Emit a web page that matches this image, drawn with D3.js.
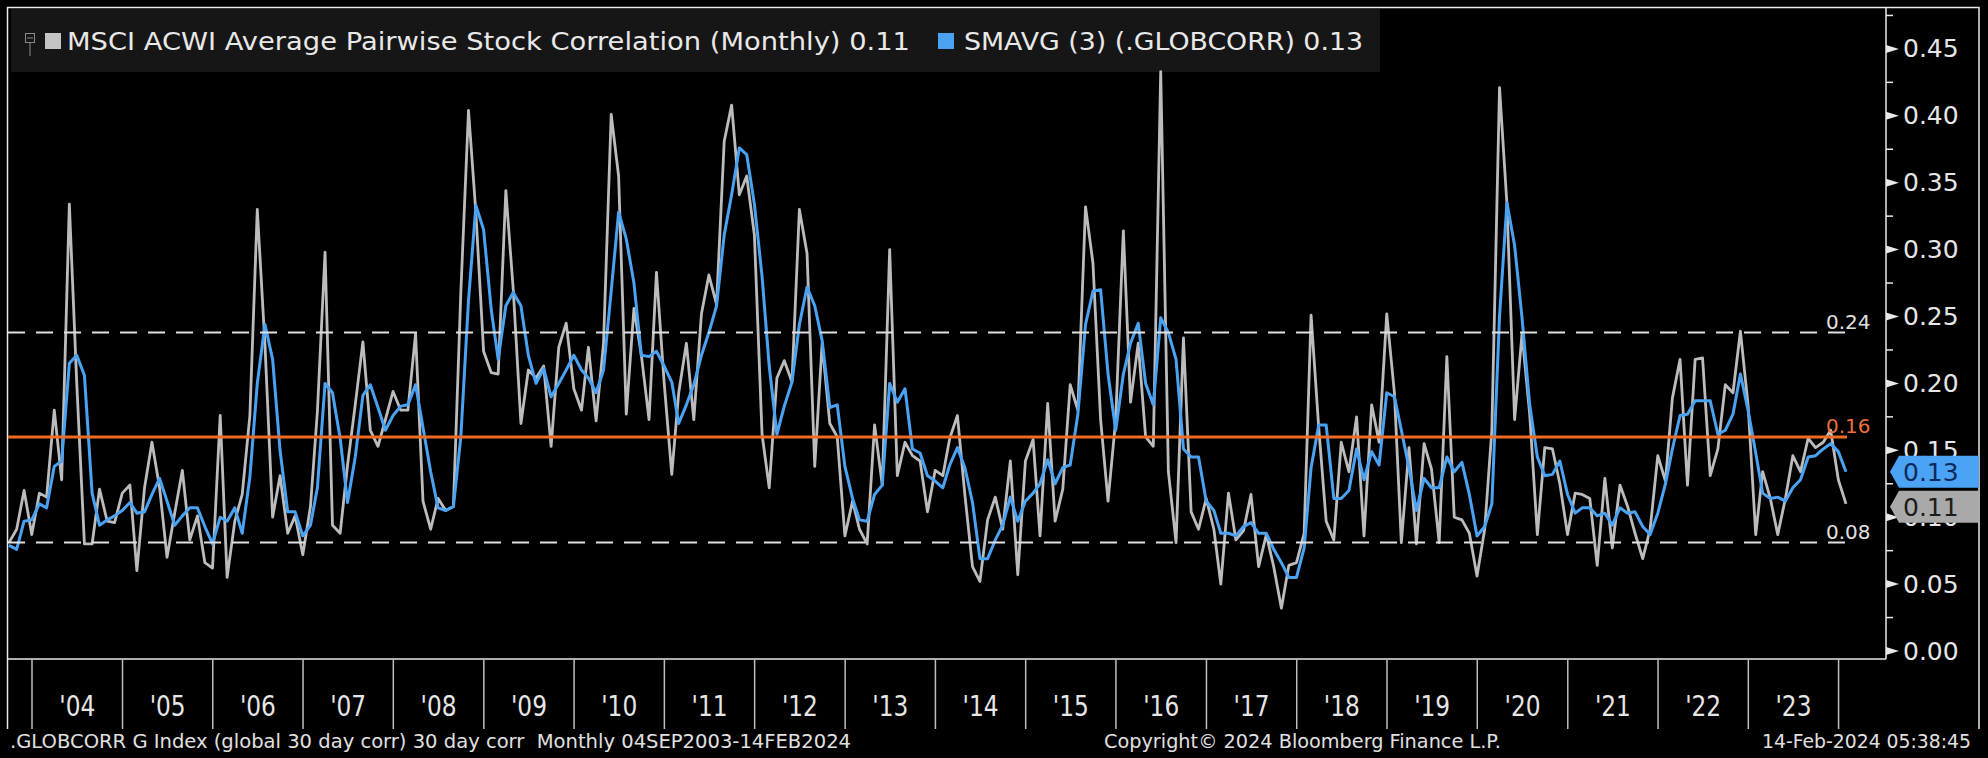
<!DOCTYPE html>
<html>
<head>
<meta charset="utf-8">
<script src="https://cdn.jsdelivr.net/npm/d3@7"></script>
<style>
  html, body { margin: 0; padding: 0; background: #000; }
  svg { display: block; }
  text { font-family: "DejaVu Sans", "Liberation Sans", sans-serif; }
</style>
</head>
<body>
<div id="chart"></div>
<script>
// monthly values, Sep 2003 .. Jan 2024 (month ends)
const corr = [
  0.081, 0.091, 0.120, 0.087,
  0.118, 0.115, 0.180, 0.128, 0.334, 0.200, 0.080, 0.080, 0.121, 0.097, 0.096, 0.118,
  0.124, 0.060, 0.122, 0.156, 0.122, 0.070, 0.103, 0.135, 0.083, 0.101, 0.066, 0.062,
  0.176, 0.055, 0.097, 0.117, 0.176, 0.330, 0.229, 0.100, 0.131, 0.088, 0.101, 0.072,
  0.108, 0.179, 0.298, 0.094, 0.088, 0.139, 0.184, 0.231, 0.165, 0.153, 0.173, 0.194,
  0.180, 0.180, 0.237, 0.112, 0.091, 0.114, 0.105, 0.108, 0.268, 0.404, 0.327, 0.224,
  0.208, 0.207, 0.344, 0.270, 0.170, 0.210, 0.204, 0.213, 0.153, 0.227, 0.245, 0.196,
  0.180, 0.227, 0.172, 0.230, 0.401, 0.355, 0.177, 0.256, 0.221, 0.173, 0.283, 0.201,
  0.132, 0.193, 0.230, 0.173, 0.252, 0.281, 0.259, 0.381, 0.408, 0.341, 0.355, 0.311,
  0.162, 0.122, 0.204, 0.217, 0.201, 0.330, 0.297, 0.138, 0.230, 0.170, 0.160, 0.086,
  0.112, 0.091, 0.080, 0.169, 0.124, 0.300, 0.131, 0.156, 0.146, 0.142, 0.104, 0.135,
  0.131, 0.159, 0.176, 0.117, 0.063, 0.052, 0.098, 0.115, 0.091, 0.142, 0.057, 0.142,
  0.158, 0.086, 0.185, 0.097, 0.121, 0.199, 0.180, 0.332, 0.290, 0.173, 0.112, 0.173,
  0.314, 0.186, 0.230, 0.160, 0.153, 0.433, 0.134, 0.081, 0.234, 0.104, 0.091, 0.114,
  0.091, 0.050, 0.118, 0.083, 0.090, 0.117, 0.063, 0.087, 0.063, 0.032, 0.064, 0.066,
  0.088, 0.251, 0.167, 0.097, 0.083, 0.156, 0.134, 0.175, 0.086, 0.184, 0.156, 0.252,
  0.193, 0.081, 0.152, 0.080, 0.155, 0.136, 0.081, 0.220, 0.100, 0.098, 0.088, 0.056,
  0.091, 0.165, 0.421, 0.334, 0.173, 0.237, 0.177, 0.087, 0.152, 0.151, 0.125, 0.087,
  0.118, 0.117, 0.114, 0.064, 0.129, 0.077, 0.124, 0.108, 0.088, 0.069, 0.091, 0.146,
  0.127, 0.189, 0.218, 0.124, 0.218, 0.219, 0.131, 0.151, 0.199, 0.193, 0.239, 0.184,
  0.087, 0.134, 0.114, 0.087, 0.114, 0.146, 0.134, 0.159, 0.152, 0.156, 0.165, 0.128,
  0.110
];

const smavg = [
  0.079, 0.076, 0.097, 0.098,
  0.110, 0.107, 0.138, 0.142, 0.215, 0.221, 0.206, 0.118, 0.094, 0.098, 0.101, 0.105,
  0.111, 0.103, 0.104, 0.117, 0.129, 0.112, 0.094, 0.101, 0.107, 0.107, 0.093, 0.080,
  0.100, 0.097, 0.107, 0.088, 0.130, 0.200, 0.244, 0.218, 0.150, 0.104, 0.104, 0.086,
  0.094, 0.122, 0.200, 0.193, 0.159, 0.111, 0.145, 0.191, 0.199, 0.182, 0.165, 0.176,
  0.183, 0.184, 0.199, 0.167, 0.134, 0.107, 0.105, 0.108, 0.160, 0.262, 0.333, 0.315,
  0.255, 0.218, 0.258, 0.268, 0.258, 0.221, 0.200, 0.211, 0.190, 0.200, 0.210, 0.221,
  0.210, 0.204, 0.193, 0.210, 0.269, 0.328, 0.308, 0.275, 0.221, 0.220, 0.224, 0.213,
  0.201, 0.170, 0.184, 0.199, 0.221, 0.238, 0.258, 0.311, 0.341, 0.376, 0.371, 0.334,
  0.280, 0.213, 0.162, 0.183, 0.201, 0.244, 0.272, 0.258, 0.232, 0.182, 0.184, 0.138,
  0.114, 0.098, 0.097, 0.117, 0.124, 0.200, 0.186, 0.196, 0.151, 0.148, 0.131, 0.127,
  0.122, 0.139, 0.152, 0.137, 0.111, 0.069, 0.069, 0.083, 0.094, 0.115, 0.097, 0.112,
  0.118, 0.125, 0.143, 0.125, 0.137, 0.139, 0.177, 0.244, 0.269, 0.270, 0.207, 0.165,
  0.207, 0.230, 0.245, 0.200, 0.184, 0.249, 0.238, 0.218, 0.151, 0.145, 0.145, 0.112,
  0.105, 0.088, 0.088, 0.086, 0.093, 0.096, 0.088, 0.088, 0.076, 0.066, 0.055, 0.055,
  0.077, 0.137, 0.169, 0.169, 0.114, 0.114, 0.120, 0.151, 0.128, 0.149, 0.139, 0.193,
  0.190, 0.165, 0.137, 0.105, 0.129, 0.122, 0.122, 0.145, 0.134, 0.141, 0.117, 0.086,
  0.093, 0.110, 0.250, 0.335, 0.303, 0.249, 0.184, 0.145, 0.131, 0.132, 0.142, 0.117,
  0.103, 0.107, 0.107, 0.101, 0.103, 0.094, 0.107, 0.103, 0.104, 0.093, 0.087, 0.103,
  0.125, 0.151, 0.176, 0.177, 0.187, 0.187, 0.187, 0.162, 0.165, 0.177, 0.207, 0.180,
  0.148, 0.118, 0.114, 0.115, 0.112, 0.122, 0.128, 0.145, 0.146, 0.151, 0.155, 0.149,
  0.134
];

const yTicks = [0, 0.05, 0.10, 0.15, 0.20, 0.25, 0.30, 0.35, 0.40, 0.45];
const refValues = [0.238, 0.160, 0.081];   // +1 sd, mean, -1 sd
const refLabels = ["0.24", "0.16", "0.08"];
const legendNames = ["MSCI ACWI Average Pairwise Stock Correlation (Monthly) 0.11", "SMAVG (3) (.GLOBCORR) 0.13"];
const footer = [".GLOBCORR G Index (global 30 day corr) 30 day corr  Monthly 04SEP2003-14FEB2024",
                "Copyright\u00A9 2024 Bloomberg Finance L.P.", "14-Feb-2024 05:38:45"];

const W = 1988, H = 758;
const plot = { left: 8, right: 1886, top: 7, bottom: 659 };

const months = d3.timeMonth.range(new Date(2003, 8, 1), new Date(2024, 1, 1))
    .map(m => d3.timeDay.offset(d3.timeMonth.offset(m, 1), -1));

const svg = d3.select("#chart").append("svg")
    .attr("width", W)
    .attr("height", H);

svg.append("rect").attr("width", W).attr("height", H).attr("fill", "#000");

const x = d3.scaleTime()
    .domain([months[0], months[months.length - 1]])
    .range([9, 1846]);

const y = d3.scaleLinear()
    .domain([0, 0.45])
    .range([651, 48.9]);

// frame
svg.append("path")
    .attr("d", `M7.5,729V7.5H1979V729`)
    .attr("fill", "none").attr("stroke", "#e8e8e8").attr("stroke-width", 1.5);

// legend panel
svg.append("rect").attr("x", 11).attr("y", 9).attr("width", 1369).attr("height", 63).attr("fill", "#161616");

// series
const line = d3.line()
    .x((d, i) => x(months[i]))
    .y(d => y(d));

svg.append("path").datum(corr)
    .attr("d", line)
    .attr("fill", "none").attr("stroke", "#bcbcbc").attr("stroke-width", 2.8)
    .attr("stroke-linejoin", "round");

svg.append("path").datum(smavg)
    .attr("d", line)
    .attr("fill", "none").attr("stroke", "#4aa2f2").attr("stroke-width", 3)
    .attr("stroke-linejoin", "round");

// reference lines
const refEnd = 1847;
refValues.forEach((v, i) => {
    const mean = i === 1;
    svg.append("line")
        .attr("x1", plot.left).attr("x2", refEnd)
        .attr("y1", y(v)).attr("y2", y(v))
        .attr("stroke", mean ? "#ef6a22" : "#e0e0e0")
        .attr("stroke-width", mean ? 3 : 2)
        .attr("stroke-dasharray", mean ? null : "17,11");
    svg.append("text")
        .attr("x", 1826).attr("y", y(v) - 4)
        .attr("font-size", 20)
        .attr("fill", mean ? "#e9703a" : "#e0e0e0")
        .text(refLabels[i]);
});

// axes lines
svg.append("line").attr("x1", plot.right).attr("x2", plot.right).attr("y1", plot.top).attr("y2", plot.bottom)
    .attr("stroke", "#e8e8e8").attr("stroke-width", 1.5);
svg.append("line").attr("x1", plot.left).attr("x2", plot.right).attr("y1", plot.bottom).attr("y2", plot.bottom)
    .attr("stroke", "#e8e8e8").attr("stroke-width", 1.5);

// y axis
const yAxis = svg.append("g")
    .attr("transform", `translate(${plot.right},0)`)
    .call(d3.axisRight(y).tickValues(yTicks).tickSize(0).tickPadding(17).tickFormat(d3.format(".2f")));
yAxis.select(".domain").remove();
yAxis.selectAll("text").attr("font-size", 25).attr("fill", "#e6e6e6").attr("font-family", "DejaVu Sans");

svg.selectAll(".tick-arrow")
    .data(yTicks)
    .enter().append("path")
    .attr("class", "tick-arrow")
    .attr("d", d => `M${plot.right},${y(d) - 4}L${plot.right + 13},${y(d)}L${plot.right},${y(d) + 4}Z`)
    .attr("fill", "#e8e8e8");

svg.selectAll(".minor")
    .data(yTicks.map(d => d + 0.025))
    .enter().append("line")
    .attr("class", "minor")
    .attr("x1", plot.right).attr("x2", plot.right + 7)
    .attr("y1", d => y(d)).attr("y2", d => y(d))
    .attr("stroke", "#e8e8e8").attr("stroke-width", 1.5);

// x axis: year separators and labels
const yearStarts = d3.timeYear.range(new Date(2004, 0, 1), new Date(2024, 0, 2));
svg.selectAll(".sep")
    .data(yearStarts)
    .enter().append("line")
    .attr("class", "sep")
    .attr("x1", d => x(d)).attr("x2", d => x(d))
    .attr("y1", plot.bottom).attr("y2", 729)
    .attr("stroke", "#bdbdbd").attr("stroke-width", 1.5);

svg.selectAll(".year")
    .data(yearStarts.slice(0, -1))
    .enter().append("text")
    .attr("class", "year")
    .attr("x", d => (x(d) + x(d3.timeYear.offset(d, 1))) / 2 - 18)
    .attr("y", 716)
    .attr("font-size", 28)
    .attr("fill", "#e6e6e6")
    .attr("textLength", 36).attr("lengthAdjust", "spacingAndGlyphs")
    .text(d3.timeFormat("'%y"));

// last value tags
const tagY1 = y(smavg[smavg.length - 1]);
const tagY2 = Math.max(y(corr[corr.length - 1]), tagY1 + 35);
const tags = [
    { cy: tagY1, fill: "#4ba3f5", color: "#0b2a5c", text: d3.format(".2f")(smavg[smavg.length - 1]) },
    { cy: tagY2, fill: "#a9a9a9", color: "#1c1c1c", text: d3.format(".2f")(corr[corr.length - 1]) }
];
tags.forEach(t => {
    svg.append("path")
        .attr("d", `M1890,${t.cy}L1899,${t.cy - 16}H1979V${t.cy + 16}H1899Z`)
        .attr("fill", t.fill);
    svg.append("text")
        .attr("x", 1903).attr("y", t.cy + 9)
        .attr("font-size", 25).attr("fill", t.color)
        .text(t.text);
});

// legend
svg.append("rect").attr("x", 25.5).attr("y", 33.5).attr("width", 9).attr("height", 9)
    .attr("fill", "none").attr("stroke", "#8a8a8a");
svg.append("line").attr("x1", 27).attr("x2", 33).attr("y1", 38).attr("y2", 38).attr("stroke", "#8a8a8a");
svg.append("line").attr("x1", 30).attr("x2", 30).attr("y1", 43).attr("y2", 56).attr("stroke", "#8a8a8a");

const legendBoxes = [{ x: 45, fill: "#c4c4c4" }, { x: 938, fill: "#4aa2f2" }];
const legendText = [{ x: 67, w: 843 }, { x: 964, w: 399 }];
legendNames.forEach((name, i) => {
    svg.append("rect").attr("x", legendBoxes[i].x).attr("y", 33).attr("width", 16).attr("height", 16)
        .attr("fill", legendBoxes[i].fill);
    svg.append("text")
        .attr("x", legendText[i].x).attr("y", 50)
        .attr("font-size", 25).attr("fill", "#e8e8e8")
        .attr("textLength", legendText[i].w).attr("lengthAdjust", "spacingAndGlyphs")
        .text(name);
});

// footer
const footPos = [{ x: 10, w: 841 }, { x: 1104, w: 397 }, { x: 1762, w: 209 }];
footer.forEach((s, i) => {
    svg.append("text")
        .attr("x", footPos[i].x).attr("y", 748)
        .attr("font-size", 20).attr("fill", "#e0e0e0")
        .attr("textLength", footPos[i].w).attr("lengthAdjust", "spacingAndGlyphs")
        .style("white-space", "pre")
        .text(s);
});
</script>
</body>
</html>
